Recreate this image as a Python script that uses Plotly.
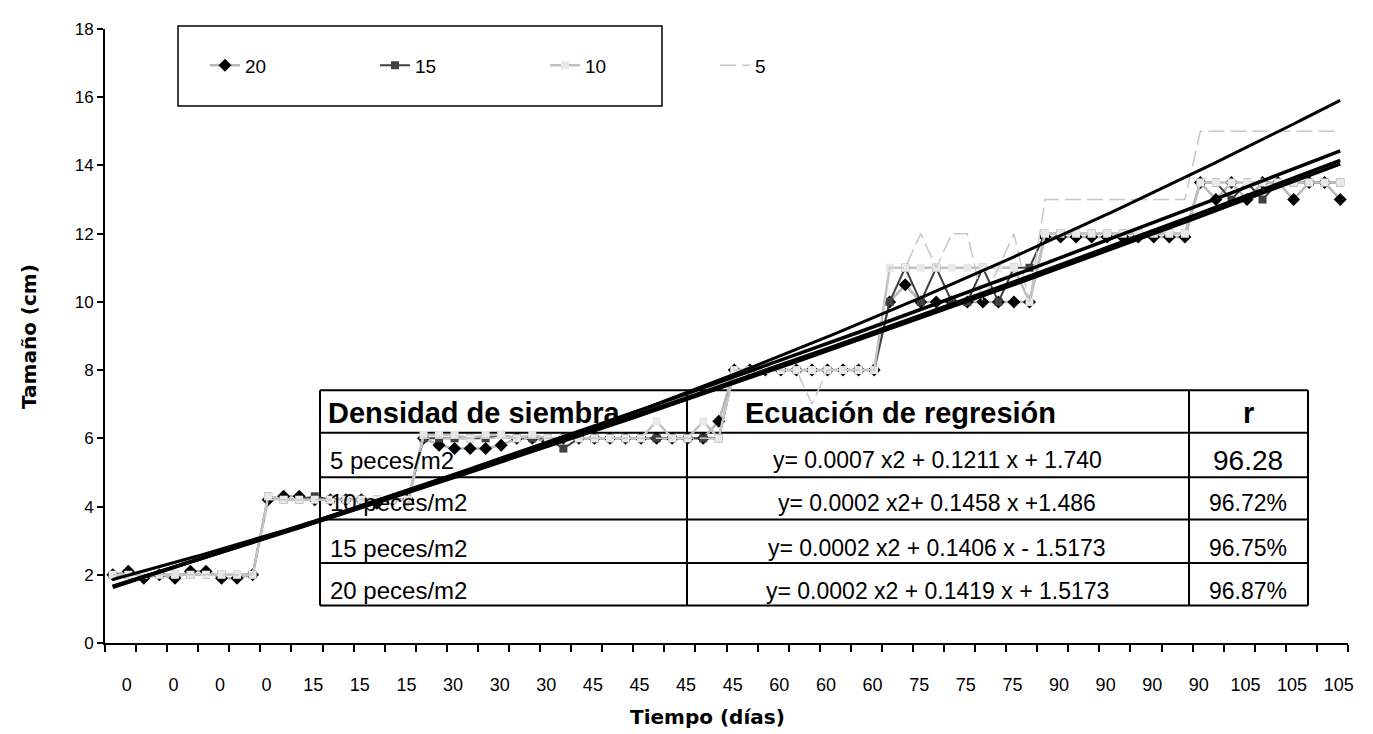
import plotly.graph_objects as go
import numpy as np

# ---------------- data ----------------
# category labels (sampling day of each measured fish, 80 categories)
days = [0, 0, 0, 0, 0, 0, 0, 0, 0, 0,
        15, 15, 15, 15, 15, 15, 15, 15, 15, 15,
        30, 30, 30, 30, 30, 30, 30, 30, 30, 30,
        45, 45, 45, 45, 45, 45, 45, 45, 45, 45,
        60, 60, 60, 60, 60, 60, 60, 60, 60, 60,
        75, 75, 75, 75, 75, 75, 75, 75, 75, 75,
        90, 90, 90, 90, 90, 90, 90, 90, 90, 90,
        105, 105, 105, 105, 105, 105, 105, 105, 105, 105]

s20 = [2.0, 2.1, 1.9, 2.0, 1.9, 2.1, 2.1, 1.9, 1.9, 2.0,
       4.2, 4.3, 4.3, 4.2, 4.2, 4.2, 4.2, 4.1, 4.2, 4.2,
       6.0, 5.8, 5.7, 5.7, 5.7, 5.8, 6.0, 6.0, 5.9, 6.0,
       6.0, 6.0, 6.0, 6.0, 6.0, 6.0, 6.0, 6.0, 6.0, 6.5,
       8.0, 8.0, 8.0, 8.0, 8.0, 8.0, 8.0, 8.0, 8.0, 8.0,
       10.0, 10.5, 10.0, 10.0, 10.0, 10.0, 10.0, 10.0, 10.0, 10.0,
       11.9, 11.9, 11.9, 11.9, 11.9, 11.9, 11.9, 11.9, 11.9, 11.9,
       13.5, 13.0, 13.5, 13.0, 13.5, 13.5, 13.0, 13.5, 13.5, 13.0]

s15 = [2.0, 2.0, 2.0, 2.0, 2.0, 2.0, 2.0, 2.0, 2.0, 2.0,
       4.3, 4.2, 4.2, 4.3, 4.2, 4.2, 4.2, 4.2, 4.2, 4.2,
       6.0, 6.0, 6.0, 6.0, 6.0, 6.1, 6.0, 6.0, 6.0, 5.7,
       6.0, 6.0, 6.0, 6.0, 6.0, 6.0, 6.0, 6.0, 6.0, 6.0,
       8.0, 8.0, 8.0, 8.0, 8.0, 8.0, 8.0, 8.0, 8.0, 8.0,
       10.0, 11.0, 10.0, 11.0, 10.0, 10.0, 11.0, 10.0, 11.0, 11.0,
       12.0, 12.0, 12.0, 12.0, 12.0, 12.0, 12.0, 12.0, 12.0, 12.0,
       13.5, 13.5, 13.0, 13.5, 13.0, 13.5, 13.5, 13.5, 13.5, 13.5]

s10 = [2.0, 2.0, 2.0, 2.0, 2.0, 2.0, 2.0, 2.0, 2.0, 2.0,
       4.3, 4.2, 4.2, 4.2, 4.2, 4.2, 4.2, 4.2, 4.2, 4.2,
       6.1, 6.1, 6.1, 6.0, 6.1, 6.1, 6.0, 6.1, 6.0, 6.0,
       6.0, 6.0, 6.0, 6.0, 6.0, 6.5, 6.0, 6.0, 6.5, 6.0,
       8.0, 8.0, 8.0, 8.0, 8.0, 8.0, 8.0, 8.0, 8.0, 8.0,
       11.0, 11.0, 11.0, 11.0, 11.0, 11.0, 11.0, 11.0, 11.0, 10.0,
       12.0, 12.0, 12.0, 12.0, 12.0, 12.0, 12.0, 12.0, 12.0, 12.0,
       13.5, 13.5, 13.5, 13.5, 13.5, 13.5, 13.5, 13.5, 13.5, 13.5]

s5 = [2.0, 2.0, 2.0, 2.0, 2.0, 2.0, 2.0, 2.0, 2.0, 2.0,
      4.2, 4.2, 4.2, 4.2, 4.2, 4.2, 4.2, 4.2, 4.2, 4.0,
      6.0, 6.0, 6.0, 6.0, 6.0, 6.0, 6.0, 6.0, 6.0, 6.0,
      6.0, 6.0, 6.0, 6.0, 6.0, 6.0, 6.0, 6.0, 6.0, 6.0,
      8.0, 8.0, 8.0, 8.0, 8.0, 7.0, 8.0, 8.0, 8.0, 8.0,
      11.0, 11.0, 12.0, 11.0, 12.0, 12.0, 10.0, 11.0, 12.0, 10.0,
      13.0, 13.0, 13.0, 13.0, 13.0, 13.0, 13.0, 13.0, 13.0, 13.0,
      15.0, 15.0, 15.0, 15.0, 15.0, 15.0, 15.0, 15.0, 15.0, 15.0]

series_names = ["20", "15", "10", "5"]

# regression coefficients shown in the table (y = a x^2 + b x + c, x = 1..80)
trend_a = [0.0007, 0.0002, 0.0002, 0.0002]
trend_b = [0.1211, 0.1458, 0.1406, 0.1419]
trend_c = [1.740, 1.486, 1.5173, 1.5173]

table_header = ["Densidad de siembra", "Ecuación de regresión", "r"]
table_density = ["5 peces/m2", "10 peces/m2", "15 peces/m2", "20 peces/m2"]
table_equation = ["y= 0.0007 x2 + 0.1211 x + 1.740",
                  "y= 0.0002 x2+ 0.1458 x +1.486",
                  "y= 0.0002 x2 + 0.1406 x - 1.5173",
                  "y= 0.0002 x2 + 0.1419 x + 1.5173"]
table_r = ["96.28", "96.72%", "96.75%", "96.87%"]

# ---------------- figure ----------------
OFF = 8                      # page body margin
W, H = 1373 - OFF, 734 - OFF
# plot area in screen pixels: x 105..1348, y 21..643
SX0, SX1, SY0, SY1 = 105, 1348, 21, 643
ML, MR = SX0 - OFF, W - (SX1 - OFF)
MT, MB = SY0 - OFF, H - (SY1 - OFF)
PW, PH = SX1 - SX0, SY1 - SY0

def px_x(p):
    return (p - SX0) / PW

def px_y(p):
    return (SY1 - p) / PH

FONT = "Arial, Liberation Sans, sans-serif"
TFONT = "DejaVu Sans, Arial, sans-serif"
xi = list(range(len(days)))

fig = go.Figure()

styles = [
    dict(line=dict(color="#b8b8b8", width=2.5),
         marker=dict(symbol="diamond", color="#000000", size=10)),
    dict(line=dict(color="#404040", width=2),
         marker=dict(symbol="square", color="#404040", size=8)),
    dict(line=dict(color="#c0c0c0", width=2.5),
         marker=dict(symbol="square", color="#e8e8e8", size=8)),
    dict(line=dict(color="#c8c8c8", width=1.5, dash="16px,6px"),
         marker=dict(size=1, opacity=0)),
]
modes = ["lines+markers", "lines+markers", "lines+markers", "lines"]
for name, vals, st, md in zip(series_names, [s20, s15, s10, s5], styles, modes):
    fig.add_trace(go.Scatter(x=xi, y=vals, mode=md, name=name,
                             line=st["line"], marker=st["marker"]))

# polynomial trend lines from the table equations
t = np.linspace(1, len(days), 300)
for a, b, c, w in zip(trend_a, trend_b, trend_c, [3, 3.5, 3.5, 3.5]):
    fig.add_trace(go.Scatter(x=t - 1, y=a * t ** 2 + b * t + c, mode="lines",
                             line=dict(color="#000000", width=w),
                             showlegend=False, hoverinfo="skip"))

label_idx = list(range(0, len(days), 3))

fig.update_layout(
    width=W, height=H,
    margin=dict(l=ML, r=MR, t=MT, b=MB),
    paper_bgcolor="white", plot_bgcolor="white",
    font=dict(family=FONT, color="black", size=17),
    showlegend=True,
    legend=dict(orientation="h", x=px_x(205), y=px_y(58),
                xanchor="left", yanchor="middle",
                entrywidth=125, entrywidthmode="pixels",
                font=dict(size=19, family=FONT), bgcolor="rgba(0,0,0,0)",
                borderwidth=0),
    xaxis=dict(range=[-0.5, len(days) - 0.5], showgrid=False, zeroline=False,
               showline=True, linecolor="black", linewidth=2,
               tickmode="array", tickvals=label_idx,
               ticktext=[str(days[i]) for i in label_idx],
               ticks="outside", ticklen=24, tickcolor="rgba(0,0,0,0)",
               ticklabelshift=14,
               tickfont=dict(size=18, family=FONT),
               minor=dict(tickmode="linear", tick0=-0.5, dtick=2,
                          ticks="outside", ticklen=7, tickwidth=2,
                          tickcolor="black", showgrid=False)),
    yaxis=dict(range=[0, 18], dtick=2, showgrid=False, zeroline=False,
               showline=True, linecolor="black", linewidth=2,
               ticks="outside", ticklen=6, tickwidth=2, tickcolor="black",
               tickfont=dict(size=17, family=FONT)),
)

shapes = []
# legend box
shapes.append(dict(type="rect", xref="paper", yref="paper",
                   x0=px_x(178), x1=px_x(662), y0=px_y(99), y1=px_y(18),
                   line=dict(color="black", width=1.5), fillcolor="white",
                   layer="below"))
# table grid
tx = [320, 687, 1189, 1308]
ty = [387, 430, 475, 518, 562, 605]
for yy in ty:
    shapes.append(dict(type="line", xref="paper", yref="paper",
                       x0=px_x(tx[0]), x1=px_x(tx[-1]), y0=px_y(yy), y1=px_y(yy),
                       line=dict(color="black", width=2), layer="below"))
for xx in tx:
    shapes.append(dict(type="line", xref="paper", yref="paper",
                       x0=px_x(xx), x1=px_x(xx), y0=px_y(ty[0]), y1=px_y(ty[-1]),
                       line=dict(color="black", width=2), layer="below"))
fig.update_layout(shapes=shapes)

ann = []
def add_text(text, x, y, size, bold=False, xanchor="left"):
    ann.append(dict(text=("<b>%s</b>" % text) if bold else text,
                    xref="paper", yref="paper", x=px_x(x), y=px_y(y),
                    xanchor=xanchor, yanchor="middle", showarrow=False,
                    font=dict(size=size, family=FONT, color="black")))

# table header
add_text(table_header[0], 326, 410, 29, bold=True)
add_text(table_header[1], 743, 410, 29, bold=True)
add_text(table_header[2], 1248, 410, 29, bold=True, xanchor="center")
row_y = [458, 501, 547, 590]
for i in range(4):
    add_text(table_density[i], 328, row_y[i], 24)
    add_text(table_equation[i], 937, row_y[i], 23, xanchor="center")
    add_text(table_r[i], 1248, row_y[i], 28 if i == 0 else 23, xanchor="center")

# axis titles
ann.append(dict(text="<b>Tiempo (días)</b>", xref="paper", yref="paper",
                x=px_x(707), y=px_y(718), xanchor="center", yanchor="middle",
                showarrow=False, font=dict(size=20, family=TFONT)))
ann.append(dict(text="<b>Tamaño (cm)</b>", xref="paper", yref="paper",
                x=px_x(29), y=px_y(333), xanchor="center", yanchor="middle",
                textangle=-90, showarrow=False, font=dict(size=20, family=TFONT)))
fig.update_layout(annotations=ann)

fig.write_html("out.html")
